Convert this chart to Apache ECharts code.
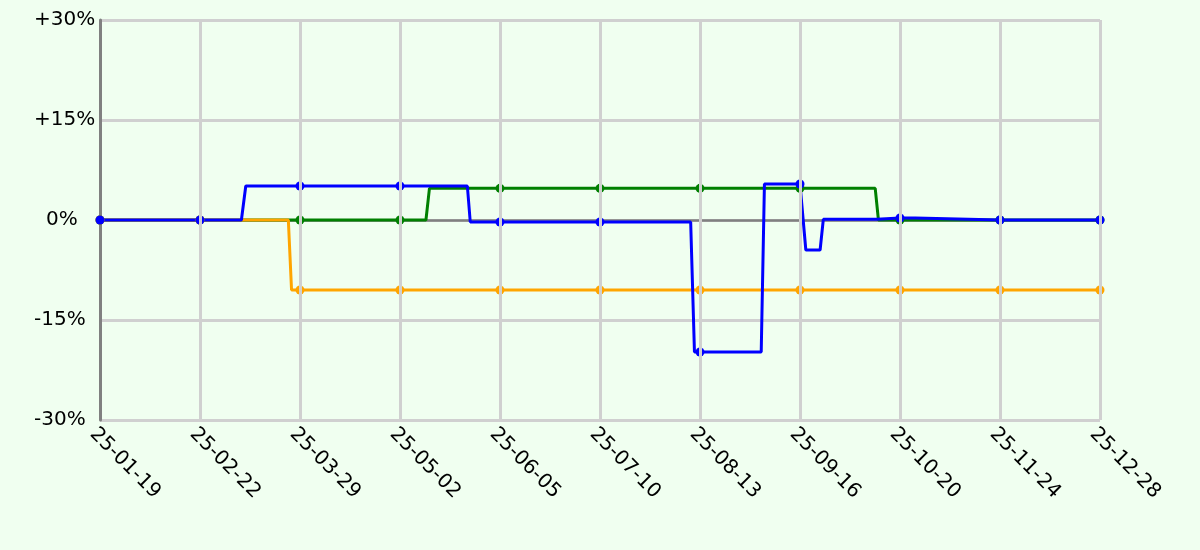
<!DOCTYPE html>
<html>
<head>
<meta charset="utf-8">
<script src="https://cdn.jsdelivr.net/npm/echarts@6/dist/echarts.min.js"></script>
<style>
  html, body { margin: 0; padding: 0; background: #f0fff0; }
  #chart { width: 1200px; height: 550px; }
</style>
</head>
<body>
<div id="chart"></div>
<script>
// x values are days after 2025-01-19; ticks every 34.3 days
const TICK = 34.3;
const xTickLabels = ['25-01-19', '25-02-22', '25-03-29', '25-05-02', '25-06-05', '25-07-10',
                     '25-08-13', '25-09-16', '25-10-20', '25-11-24', '25-12-28'];
const yTickLabels = { '-30': '-30%', '-15': '-15%', '0': '0%', '15': '+15%', '30': '+30%' };

// [day, percent]
const greenSeries = [
  [0, 0], [34.3, 0], [68.6, 0], [102.9, 0], [111.8, 0], [113, 4.75], [137.2, 4.75],
  [171.5, 4.75], [205.8, 4.75], [240.1, 4.75], [265.9, 4.75], [267, 0], [274.4, 0],
  [308.7, 0], [343, 0]
];
const orangeSeries = [
  [0, 0], [34.3, 0], [64.6, 0], [65.7, -10.5], [68.6, -10.5], [102.9, -10.5], [137.2, -10.5],
  [171.5, -10.5], [205.8, -10.5], [240.1, -10.5], [274.4, -10.5], [308.7, -10.5], [343, -10.5]
];
const blueSeries = [
  [0, 0], [34.3, 0], [48.5, 0], [50, 5.1], [68.6, 5.1], [102.9, 5.1], [126, 5.1], [127, -0.3],
  [137.2, -0.3], [171.5, -0.3], [202.6, -0.3], [203.9, -19.8], [205.8, -19.8], [226.8, -19.8],
  [227.9, 5.4], [240.1, 5.4], [240.7, 5.4], [242.1, -4.5], [247, -4.5], [248.1, 0.1],
  [266.5, 0.1], [267, 0.3], [274.4, 0.3], [279.6, 0.3], [280, 0], [308.7, 0], [343, 0]
];

const FONT = 'DejaVu Sans';
function isTick(x) {
  const k = x / TICK;
  return Math.abs(k - Math.round(k)) < 1e-6;
}
function makeSeries(name, data, color) {
  return {
    name: name,
    type: 'line',
    data: data,
    xAxisIndex: 0,
    yAxisIndex: 0,
    showSymbol: true,
    showAllSymbol: true,
    symbol: function (val) { return isTick(val[0]) ? 'circle' : 'none'; },
    symbolSize: 9,
    itemStyle: { color: color },
    lineStyle: { color: color, width: 3 },
    emphasis: { disabled: true },
    animation: false
  };
}

const chart = echarts.init(document.getElementById('chart'), null, { renderer: 'canvas' });
chart.setOption({
  backgroundColor: '#f0fff0',
  animation: false,
  grid: { left: 100, right: 100, top: 20, bottom: 130, containLabel: false },
  xAxis: [
    {
      type: 'value', min: 0, max: 343, interval: TICK,
      axisLine: { show: true, onZero: true, lineStyle: { color: '#808080', width: 2.5 } },
      axisTick: { show: false },
      splitLine: { show: false },
      axisLabel: {
        show: true, rotate: -45, align: 'left', verticalAlign: 'top', margin: 4,
        color: '#000', fontFamily: FONT, fontSize: 20,
        showMinLabel: true, showMaxLabel: true,
        formatter: function (v) { return xTickLabels[Math.round(v / TICK)]; }
      },
      z: 0
    },
    {
      type: 'value', min: 0, max: 343, interval: TICK, position: 'bottom',
      axisLine: { show: false },
      axisTick: { show: false },
      axisLabel: { show: false },
      splitLine: { show: true, showMinLine: false, lineStyle: { color: '#d0d0d0', width: 3 } },
      z: 5
    }
  ],
  yAxis: {
    type: 'value', min: -30, max: 30, interval: 15,
    axisLine: { show: true, onZero: false, lineStyle: { color: '#808080', width: 3 } },
    axisTick: { show: false },
    splitLine: { show: true, lineStyle: { color: '#d0d0d0', width: 3 } },
    axisLabel: {
      color: '#000', fontFamily: FONT, fontSize: 20, margin: 66, align: 'left',
      formatter: function (v) {
        const t = yTickLabels[String(v)];
        return v === 0 ? '{z|' + t + '}' : t;
      },
      rich: {
        z: { padding: [0, 0, 0, 12], color: '#000', fontFamily: FONT, fontSize: 20 }
      }
    }
  },
  series: [
    makeSeries('green', greenSeries, '#008000'),
    makeSeries('orange', orangeSeries, '#ffa500'),
    makeSeries('blue', blueSeries, '#0000ff')
  ]
});
</script>
</body>
</html>
